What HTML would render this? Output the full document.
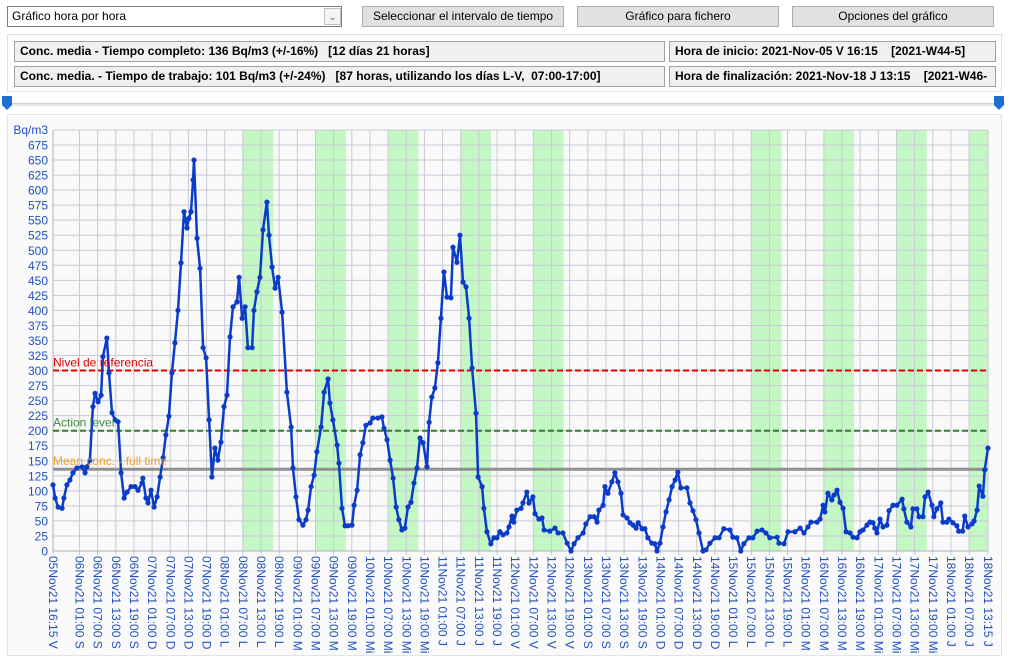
<!DOCTYPE html>
<html><head><meta charset="utf-8">
<style>
body{margin:0;width:1013px;height:663px;background:#fff;font-family:"Liberation Sans",sans-serif;position:relative;overflow:hidden}
.abs{position:absolute;box-sizing:border-box}
.btn{background:#e1e1e1;border:1px solid #adadad;font-size:12px;text-align:center;line-height:19px;color:#000}
.info{background:#f0f0f0;border:1px solid #a0a0a0;font-size:12px;font-weight:bold;line-height:19px;padding-left:5px;white-space:nowrap;overflow:hidden}
</style></head><body>
<div class="abs" style="left:7px;top:6px;width:335px;height:21px;border:1px solid #7a7a7a;background:#fff;font-size:12px;line-height:19px;padding-left:4px">Gráfico hora por hora
 <div class="abs" style="left:316px;top:1px;width:17px;height:17px;border:1px solid #c0c0c0;background:#f4f4f4;font-size:9px;text-align:center;line-height:16px;color:#555">&#8964;</div>
</div>
<div class="abs btn" style="left:362px;top:6px;width:202px;height:21px">Seleccionar el intervalo de tiempo</div>
<div class="abs btn" style="left:577px;top:6px;width:202px;height:21px">Gráfico para fichero</div>
<div class="abs btn" style="left:792px;top:6px;width:202px;height:21px">Opciones del gráfico</div>
<div class="abs" style="left:7px;top:34px;width:995px;height:58px;border:1px solid #e0e0e0;background:#fff"></div>
<div class="abs info" style="left:14px;top:41px;width:651px;height:21px">Conc. media - Tiempo completo: 136 Bq/m3 (+/-16%)&nbsp;&nbsp; [12 días 21 horas]</div>
<div class="abs info" style="left:14px;top:66px;width:651px;height:21px">Conc. media. - Tiempo de trabajo: 101 Bq/m3 (+/-24%)&nbsp;&nbsp; [87 horas, utilizando los días L-V,&nbsp; 07:00-17:00]</div>
<div class="abs info" style="left:669px;top:41px;width:327px;height:21px">Hora de inicio: 2021-Nov-05 V 16:15&nbsp;&nbsp;&nbsp; [2021-W44-5]</div>
<div class="abs info" style="left:669px;top:66px;width:327px;height:21px">Hora de finalización: 2021-Nov-18 J 13:15&nbsp;&nbsp;&nbsp; [2021-W46-</div>
<div class="abs" style="left:7px;top:103px;width:998px;height:3px;background:#e6e6e6;border-top:1px solid #d0d0d0"></div>
<svg class="abs" style="left:0;top:94px" width="1013" height="22">
<path d="M2 2h10v9l-5 5l-5-5z" fill="#1a6fd1"/>
<path d="M994 2h10v9l-5 5l-5-5z" fill="#1a6fd1"/>
</svg>
<div class="abs" style="left:7px;top:114px;width:995px;height:542px;border:1px solid #e4e4e4;background:#fafafa"></div>
<svg id="chart" class="abs" style="left:0;top:0" width="1013" height="663"></svg>
<script>
const hours=[0,0.7,1.7,3,3.6,4.6,5.6,6.6,7.9,9.6,10.6,11.2,12.2,13.2,13.9,14.9,15.9,16.5,17.8,18.5,19.5,20.5,21.5,22.5,23.5,24.5,25.8,27.1,28.1,29.4,29.7,30.7,31.4,32.4,33.4,34.4,35.4,36.4,37.3,38.3,39.3,40.3,41.3,42.3,43.3,44.3,44.9,45.6,46.3,46.6,47.6,48.6,49.6,50.6,51.6,52.5,53.5,54.5,55.5,56.5,57.5,58.5,59.5,60.8,61.5,62.5,63.5,64.4,65.8,66.4,67.4,68.4,69.4,70.7,71.4,72.4,73.4,74.4,75.7,77.3,78.7,79.3,80.3,81.3,82.6,83.6,84.3,85.3,86.3,87.2,88.6,89.6,90.9,91.5,92.5,93.9,94.5,95.5,96.5,97.5,98.8,99.5,100.5,101.5,102.4,103.4,104.8,105.7,107.4,108.7,109.4,110.4,111.4,112.4,113.4,114.3,115.3,116.3,117.3,118.3,119.3,120.3,121.3,122.3,123.6,124.3,125.2,126.2,127.2,128.2,129.2,130.2,131.5,132.2,133.5,134.5,135.5,136.5,137.5,138.5,139.8,140.5,141.8,142.4,143.4,144.7,145.7,146.7,147.7,148.7,150,150.7,151.7,152.3,153.3,154.7,155.3,156.6,157.3,158.6,159.3,160.6,161.6,162.3,164.2,165.9,166.9,168.5,169.9,171.2,172.2,173.5,175.2,176.1,177.5,178.8,179.8,180.4,181.8,182.4,183.4,184.7,185.7,186.7,187.7,188.4,189.7,190.7,191.7,192.7,193.4,194.7,195.6,196.6,197.9,198.9,199.6,200.6,201.6,202.6,203.6,204.6,205.6,206.5,207.5,209.5,210.5,211.5,212.5,213.5,214.8,215.8,217.1,218.8,220.1,221.7,223.7,224.7,226,227.3,228.3,230,231.3,232.7,234.3,235.6,236.9,239.3,239.9,241.6,242.9,245.2,246.9,248.2,249.5,250.5,252.5,253.5,254.5,255.1,256.1,257.4,258.1,259.1,260.1,261.1,262.1,263.4,264.4,265.7,266.7,267.7,269,270,271,271.6,272.3,273.3,274.3,275.6,276.3,277.6,278.9,280.6,281.2,282.2,283.5,284.2,285.5,286.2,287.5,288.2,289.2,290.5,291.1,292.1,293.4,294.1,295.4,296.1,297.4,298.7,299.3,300.6,301.3,302.4,303.7,304.4,305.4,306.1,307.3,307.9,309];
const values=[110,88,73,71,88,110,118,130,138,140,130,140,151,240,262,248,259,323,354,296,230,218,215,130,88,98,107,107,101,113,121,88,80,101,73,90,123,155,193,224,296,346,400,479,564,537,553,564,617,650,520,470,338,321,218,123,171,151,181,240,259,356,406,414,455,387,406,338,338,400,431,455,534,580,525,472,437,455,397,264,206,138,90,52,43,52,68,107,126,165,206,264,286,246,218,176,146,71,42,42,43,76,101,160,180,209,213,221,221,223,204,185,151,121,73,52,35,38,73,81,113,138,188,180,140,214,256,271,313,387,464,422,421,505,480,525,447,439,387,304,229,123,107,71,32,12,22,22,32,27,30,40,58,48,68,71,80,98,80,90,62,53,55,35,33,38,30,30,13,0,12,22,30,45,57,57,48,68,76,107,96,115,130,115,96,60,55,47,43,38,47,37,37,22,13,12,0,13,40,65,85,107,118,131,105,105,80,67,52,30,0,2,13,22,22,37,35,23,22,0,12,22,22,33,35,30,22,23,13,12,32,32,38,30,40,48,48,53,76,65,96,85,93,101,81,71,32,30,23,22,32,35,43,48,47,38,30,53,40,43,67,76,76,86,70,48,40,70,70,57,57,90,98,76,57,70,80,48,48,53,47,42,33,33,58,40,45,50,68,108,91,135,171];
const yTicks=[0,25,50,75,100,125,150,175,200,225,250,275,300,325,350,375,400,425,450,475,500,525,550,575,600,625,650,675];
const refLevels=[300,200,136];
const refNames=["Nivel de referencia","Action level","Mean conc. - full time"];
const workDays=[8,9,10,11,12,15,16,17,18];
const startDay=5, startHour=16.25, totalHours=309;
const dayLetters={5:"V",6:"S",7:"D",8:"L",9:"M",10:"Mi",11:"J",12:"V",13:"S",14:"D",15:"L",16:"M",17:"Mi",18:"J"};

const X0=53,X1=988,Y0=551,YTOP=130;
const sx=h=>X0+h*(X1-X0)/totalHours;
const sy=v=>Y0-v*(Y0-145)/675;
const NS="http://www.w3.org/2000/svg";
const svg=document.getElementById('chart');
function mk(t,a){const e=document.createElementNS(NS,t);for(const k in a)e.setAttribute(k,a[k]);svg.appendChild(e);return e;}

const bg=mk('rect',{x:X0,y:YTOP,width:X1-X0,height:Y0-YTOP,fill:'#f9f9f9'});


// work bands
workDays.forEach(d=>{
  const h0=(d-startDay)*24+7-startHour, h1=Math.min(h0+10,totalHours);
  const r=mk('rect',{x:sx(h0),y:YTOP,width:sx(h1)-sx(h0),height:Y0-YTOP,fill:'#c3f7c3'});
  
  
});
// horizontal grid + y labels
yTicks.forEach(v=>{
  const g=mk('line',{x1:X0,x2:X1,y1:sy(v),y2:sy(v),stroke:'#c9c9d6','stroke-width':1});
  
  
  const t=mk('text',{x:48,y:sy(v)+4.5,'text-anchor':'end','font-size':12,fill:'#2050c0'});
  t.textContent=v;
  
  
});
mk('line',{x1:X0,x2:X1,y1:YTOP,y2:YTOP,stroke:'#c9c9d6'});
const yt=mk('text',{x:48,y:134,'text-anchor':'end','font-size':12,fill:'#2050c0'});
yt.textContent='Bq/m3';


// x ticks
const xh=[0];for(let h=8.75;h<totalHours-3;h+=6)xh.push(h);xh.push(totalHours);
const p2=n=>String(n).padStart(2,'0');
xh.forEach((h,i)=>{
  const x=sx(h);
  const g=mk('line',{x1:x,x2:x,y1:YTOP,y2:Y0+4,stroke:'#c9c9d6'});
  
  
  const abs=startHour+h, d=startDay+Math.floor(abs/24), hr=abs%24;
  const mm=Math.round((hr%1)*60), hh=Math.floor(hr);
  const lab=p2(d)+'Nov21 '+p2(hh)+':'+p2(mm)+' '+dayLetters[d];
  const t=mk('text',{x:0,y:0,'font-size':12,fill:'#2050c0',transform:`translate(${x-4},556) rotate(90)`});
  t.textContent=lab;
  
  
});
mk('line',{x1:X0,x2:X0,y1:YTOP,y2:Y0,stroke:'#b0b0c0'});
mk('line',{x1:X0,x2:X1,y1:Y0,y2:Y0,stroke:'#b0b0c0'});
// reference lines
const refCols=['#e00000','#2e7d2e','#909090'], txtCols=['#e00000','#3d8a3d','#f0a030'];
refLevels.forEach((v,i)=>{
  const l=mk('line',{x1:X0,x2:X1,y1:sy(v),y2:sy(v),stroke:refCols[i],'stroke-width':i==2?3:2,'stroke-dasharray':i==2?'':'6,3'});
  
  
});
// series
let d='';hours.forEach((h,i)=>{d+=(i?'L':'M')+sx(h).toFixed(1)+' '+sy(values[i]).toFixed(1);});
const path=mk('path',{d,fill:'none',stroke:'#0a3cc8','stroke-width':2.5,'stroke-linejoin':'round'});


hours.forEach((h,i)=>{
  const c=mk('circle',{cx:sx(h),cy:sy(values[i]),r:2.6,fill:'#0a3cc8'});
  
  
});
refLevels.forEach((v,i)=>{
  const t=mk('text',{x:X0,y:sy(v)-4,'font-size':12,fill:txtCols[i]});
  t.textContent=refNames[i];
  
  
});
</script>
</body></html>
